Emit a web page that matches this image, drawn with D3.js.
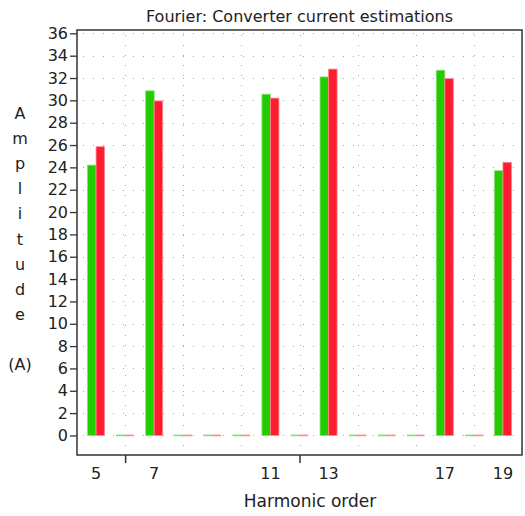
<!DOCTYPE html>
<html>
<head>
<meta charset="utf-8">
<script src="https://cdn.jsdelivr.net/npm/d3@7"></script>
<style>
  body { margin: 0; background: #fff; }
  text { font-family: "DejaVu Sans", Verdana, sans-serif; fill: #222; }
</style>
</head>
<body>
<div id="chart"></div>
<script>
// harmonic orders on the x axis
var harmonics = [5, 6, 7, 8, 9, 10, 11, 12, 13, 14, 15, 16, 17, 18, 19];
// two current estimations (green, red)
var estimA = [24.2, 0, 30.85, 0, 0, 0, 30.55, 0, 32.1, 0, 0, 0, 32.7, 0, 23.7];
var estimB = [25.85, 0, 29.95, 0, 0, 0, 30.2, 0, 32.8, 0, 0, 0, 31.95, 0, 24.45];
var xLabels = [5, 7, 11, 13, 17, 19];
var xTicks = [6, 12];
var xGrid = [6, 8, 10, 12, 14, 16, 18];
var yTicks = d3.range(0, 37, 2);
var yLabelLines = ["A", "m", "p", "l", "i", "t", "u", "d", "e", "", "(A)"];

var W = 525, H = 516;
var frame = { left: 77, right: 522, top: 30, bottom: 455 };

var svg = d3.select("#chart").append("svg")
  .attr("width", W).attr("height", H);

var x = d3.scalePoint()
  .domain(harmonics)
  .range([frame.left, frame.right])
  .padding(0.656);

var y = d3.scaleLinear()
  .domain([-1.75, 36.3])
  .range([frame.bottom, frame.top]);

// dotted grid
var grid = svg.append("g")
  .attr("stroke", "#a8a8a8")
  .attr("stroke-width", 1)
  .attr("stroke-dasharray", "1,9");
grid.selectAll("line.h").data(yTicks).join("line")
  .attr("class", "h")
  .attr("x1", frame.left + 6).attr("x2", frame.right)
  .attr("y1", d => Math.round(y(d)) + 0.5).attr("y2", d => Math.round(y(d)) + 0.5);
grid.selectAll("line.v").data(xGrid).join("line")
  .attr("class", "v")
  .attr("x1", d => Math.round(x(d)) + 0.5).attr("x2", d => Math.round(x(d)) + 0.5)
  .attr("y1", frame.top + 5).attr("y2", frame.bottom);

// bars
var bw = 8.5;
var series = [
  { values: estimA, fill: "#22cc00", edge: "#7fe070", off: -bw },
  { values: estimB, fill: "#ff1c2e", edge: "#ff8890", off: 0 }
];
series.forEach(function (s) {
  svg.append("g").selectAll("rect")
    .data(harmonics.map((h, i) => ({ h: h, v: s.values[i] })))
    .join("rect")
    .attr("x", d => x(d.h) + s.off)
    .attr("width", bw)
    .attr("y", d => d.v > 0 ? y(d.v) : y(0) - 0.5)
    .attr("height", d => d.v > 0 ? y(0) - y(d.v) : 1)
    .attr("fill", d => d.v > 0 ? s.fill : s.edge)
    .attr("stroke", s.edge)
    .attr("stroke-width", d => d.v > 0 ? 0.8 : 0.6);
});

// frame
svg.append("rect")
  .attr("x", frame.left).attr("y", frame.top)
  .attr("width", frame.right - frame.left)
  .attr("height", frame.bottom - frame.top)
  .attr("fill", "none")
  .attr("stroke", "#333")
  .attr("stroke-width", 1.5);

// y axis
var yAxis = svg.append("g")
  .attr("transform", "translate(" + frame.left + ",0)")
  .call(d3.axisLeft(y).tickValues(yTicks).tickSize(7).tickPadding(2));
yAxis.select(".domain").remove();
yAxis.selectAll(".tick line").attr("stroke", "#333").attr("stroke-width", 1.3);
yAxis.selectAll(".tick text")
  .style("font-family", "'DejaVu Sans', Verdana, sans-serif")
  .style("font-size", "16px").attr("fill", "#222");

// x axis: tick marks only at 6 and 12, labels at the odd harmonics
var xAxis = svg.append("g")
  .attr("transform", "translate(0," + frame.bottom + ")")
  .call(d3.axisBottom(x).tickValues(xTicks).tickSize(8).tickFormat(""));
xAxis.select(".domain").remove();
xAxis.selectAll(".tick line").attr("stroke", "#333").attr("stroke-width", 1.5);

svg.append("g").selectAll("text")
  .data(xLabels).join("text")
  .attr("x", d => x(d))
  .attr("y", 479)
  .attr("text-anchor", "middle")
  .style("font-size", "16px")
  .text(d => d);

// titles
svg.append("text")
  .attr("x", (frame.left + frame.right) / 2)
  .attr("y", 22)
  .attr("text-anchor", "middle")
  .style("font-size", "16px")
  .text("Fourier: Converter current estimations");

svg.append("text")
  .attr("x", 310)
  .attr("y", 507)
  .attr("text-anchor", "middle")
  .style("font-size", "17px")
  .text("Harmonic order");

svg.append("g").selectAll("text")
  .data(yLabelLines).join("text")
  .attr("x", 20)
  .attr("y", (d, i) => 119 + i * 25.1)
  .attr("text-anchor", "middle")
  .style("font-size", "16px")
  .text(d => d);
</script>
</body>
</html>
